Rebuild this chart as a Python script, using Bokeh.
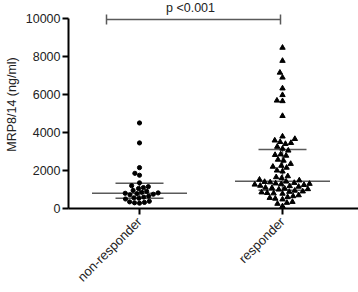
import numpy as np
from math import pi
from bokeh.plotting import figure
from bokeh.models import Range1d, FixedTicker
from bokeh.core.properties import value
from bokeh.embed import file_html
from bokeh.resources import INLINE

# ---------------- data ----------------
categories = ["non-responder", "responder"]
nonresponder = [4500, 3450, 2150, 1850, 1750, 1350, 1200, 1150, 1100, 1050, 950,
                900, 850, 820, 800, 780, 750, 720, 650, 600, 560, 540, 500, 380,
                350, 320, 300, 280]
responder = [8460, 7770, 7150, 6890, 6320, 5970, 5680, 5650, 4870, 3790, 3660,
             3580, 3500, 3450, 3400, 3250, 3150,
             3050, 2850, 2820, 2780, 2570, 2520, 2350, 2250, 2200, 2150, 2000,
             1950, 1700, 1650, 1600, 1520, 1480,
             1420, 1400, 1380, 1350, 1320, 1300, 1280, 1260, 1240, 1200, 1180,
             1150, 1100, 1080, 1050, 1020, 1000,
             940, 900, 880, 850, 820, 800, 780, 700, 650, 600, 560, 520, 480,
             350, 300, 250, 120]
nr_quartiles = [540, 800, 1330]    # Q1, median, Q3
r_quartiles = [960, 1430, 3100]
y_ticks = [0, 2000, 4000, 6000, 8000, 10000]
y_label = "MRP8/14 (ng/ml)"
p_label = "p <0.001"

# ---------------- layout ----------------
W, H = 358, 292
LEFT, BOTTOM = 68, 83
FW, FH = W - LEFT, H - BOTTOM
Y_TOP_PX = 18
y_end = 10000 * FH / (FH - Y_TOP_PX)
PX_X = 143.0
x_start = 1 - (139 - LEFT) / PX_X
x_end = x_start + FW / PX_X
py = FH / y_end  # px per unit

FONT = "Liberation Sans"


def swarm(vals, d):
    vals = np.asarray(vals, float)
    order = np.argsort(vals)
    placed = []
    xs = np.zeros(len(vals))
    for i in order:
        y = vals[i] * py
        forb = []
        for (px, pyy) in placed:
            dy = abs(pyy - y)
            if dy < d:
                h = np.sqrt(d * d - dy * dy)
                forb.append((px - h, px + h))
        cands = [0.0] + [a for a, b in forb] + [b for a, b in forb]
        cands.sort(key=lambda c: (abs(c), c))
        for c in cands:
            if all(not (a + 1e-9 < c < b - 1e-9) for a, b in forb):
                xs[i] = c
                break
        placed.append((xs[i], y))
    return xs / PX_X


p = figure(width=W, height=H, output_backend="svg", toolbar_location=None,
           x_range=Range1d(x_start, x_end), y_range=Range1d(0, y_end),
           min_border_left=LEFT, min_border_right=0, min_border_top=0,
           min_border_bottom=BOTTOM)
p.outline_line_color = None
p.grid.visible = False
p.background_fill_color = "white"
p.border_fill_color = "white"

LINE_C = "#5a5a5a"
HALF_MED = 47.5 / PX_X
HALF_IQR = 24 / PX_X
for idx, q in zip([1, 2], [nr_quartiles, r_quartiles]):
    p.segment(x0=[idx], y0=[q[0]], x1=[idx], y1=[q[2]], line_color=LINE_C, line_width=1.5)
    p.segment(x0=[idx - HALF_IQR, idx - HALF_IQR], y0=[q[0], q[2]],
              x1=[idx + HALF_IQR, idx + HALF_IQR], y1=[q[0], q[2]],
              line_color=LINE_C, line_width=1.5)
    p.segment(x0=[idx - HALF_MED], y0=[q[1]], x1=[idx + HALF_MED], y1=[q[1]],
              line_color=LINE_C, line_width=1.5)

nx = 1 + swarm(nonresponder, 5.0)
rx = 2 + swarm(responder, 5.6)
p.scatter(nx, nonresponder, marker="circle", size=4.2, color="black")
p.scatter(rx, responder, marker="triangle", size=5.4, color="black")

# significance bracket
bx0 = x_start + (106 - LEFT) / PX_X
bx1 = x_start + (280 - LEFT) / PX_X
by = 10000 - 1 / py
cap = 5 / py
p.segment(x0=[bx0], y0=[by], x1=[bx1], y1=[by], line_color=LINE_C, line_width=1.5)
p.segment(x0=[bx0, bx1], y0=[by - cap, by - cap], x1=[bx0, bx1], y1=[by + cap, by + cap],
          line_color=LINE_C, line_width=1.5)
p.text(x=[x_start + (190 - LEFT) / PX_X], y=[(FH - 8) / py], text=[p_label],
       text_align="center", text_baseline="middle", text_font=value(FONT),
       text_font_size="12.5px", text_color="#222222")

# axes
yax = p.yaxis[0]
yax.ticker = FixedTicker(ticks=y_ticks)
yax.bounds = (0, 10000)
yax.axis_label = y_label
yax.axis_label_text_font = FONT
yax.axis_label_text_font_style = "normal"
yax.axis_label_text_font_size = "12.5px"
yax.axis_label_text_color = "#222222"
yax.axis_label_standoff = 4
yax.major_label_text_font = FONT
yax.major_label_text_font_size = "12.5px"
yax.major_label_text_color = "#222222"
yax.major_label_standoff = 2
yax.axis_line_width = 2
yax.major_tick_line_width = 2
yax.major_tick_out = 6
yax.major_tick_in = 0
yax.minor_tick_line_color = None

xax = p.xaxis[0]
xax.ticker = FixedTicker(ticks=[1, 2])
xax.major_label_overrides = {1: categories[0], 2: categories[1]}
xax.major_label_orientation = pi / 4
xax.major_label_text_font = FONT
xax.major_label_text_font_size = "13px"
xax.major_label_text_color = "#222222"
xax.major_label_standoff = 5
xax.axis_line_width = 2
xax.major_tick_line_width = 2
xax.major_tick_out = 6
xax.major_tick_in = 0
xax.minor_tick_line_color = None

open("out.html", "w").write(file_html(p, INLINE))
